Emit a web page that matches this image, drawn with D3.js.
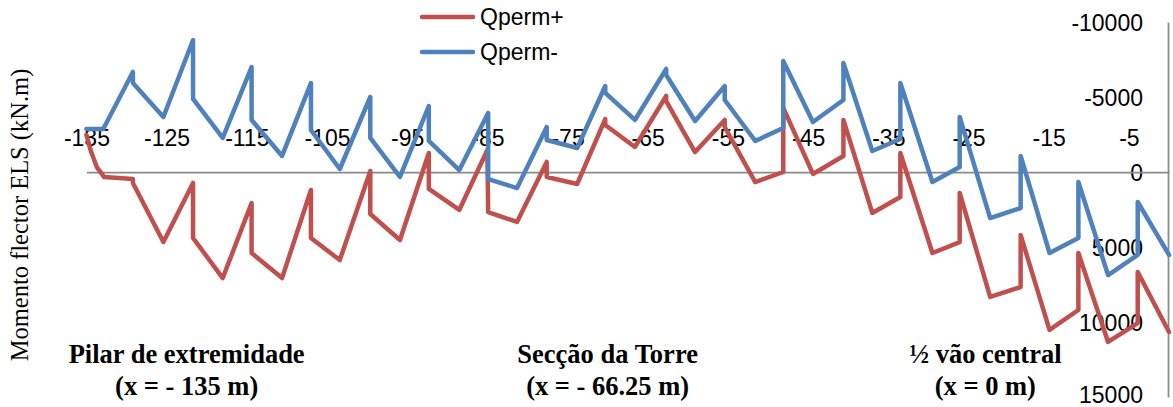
<!DOCTYPE html>
<html>
<head>
<meta charset="utf-8">
<script src="https://cdn.jsdelivr.net/npm/d3@7"></script>
<style>
  html, body { margin: 0; padding: 0; background: #fff; }
  svg { display: block; }
  .tick-label { font-family: "Liberation Sans", Arial, sans-serif; font-size: 23px; fill: #000; }
  .note { font-family: "Liberation Serif", "Times New Roman", serif; font-size: 26.5px; font-weight: bold; fill: #000; }
  .ytitle { font-family: "Liberation Serif", "Times New Roman", serif; font-size: 24.5px; fill: #000; }
</style>
</head>
<body>
<svg id="chart" width="1173" height="407"></svg>
<script>
// Bending moment envelope along half the bridge (x in m, M in kN.m)
const qpermPlusX = [-135, -134.4, -133.7, -132.8, -129.2, -129.2, -125.4, -121.7, -121.7, -118.0,
  -114.4, -114.4, -110.6, -107.0, -107.0, -103.4, -99.6, -99.6, -95.9, -92.3, -92.3, -88.5,
  -85.0, -84.9, -81.3, -77.6, -77.6, -73.8, -70.3, -70.3, -66.6, -62.7, -62.7, -59.1, -55.4,
  -55.4, -51.6, -48.1, -48.1, -44.4, -40.6, -40.6, -37.0, -33.5, -33.5, -29.5, -26.1, -26.1,
  -22.3, -18.5, -18.5, -14.9, -11.3, -11.3, -7.6, -3.9, -3.9, 0];
const qpermPlusM = [-2470, -1330, -330, 330, 470, 730, 4670, 730, 4400, 7070,
  2070, 5400, 7070, 1200, 4400, 5870, -70, 2800, 4530, -1270, 1130, 2530,
  -1470, 2670, 3330, -670, 330, 800, -3530, -3130, -1670, -5070, -4730, -1330, -3470,
  -3000, 670, 0, -4270, 130, -1070, -3470, 2730, 1670, -1270, 5400, 4670, 1400,
  8330, 7670, 4200, 10530, 9200, 5400, 11330, 10070, 6670, 10670];

const qpermMinusX = [-135, -132.9, -129.2, -129.2, -125.4, -121.7, -121.7, -118.0, -114.4, -114.4,
  -110.6, -107.0, -107.0, -103.4, -99.6, -99.6, -95.9, -92.3, -92.3, -88.5, -84.9, -84.9,
  -81.3, -77.6, -77.6, -73.8, -70.3, -70.3, -66.6, -62.7, -62.7, -59.1, -55.4, -55.4, -51.6,
  -48.1, -48.1, -44.4, -40.6, -40.6, -37.0, -33.5, -33.5, -29.5, -26.1, -26.1, -22.3, -18.5,
  -18.5, -14.9, -11.3, -11.3, -7.6, -3.9, -3.9, 0];
const qpermMinusM = [-2870, -2870, -6670, -5930, -3670, -8800, -4870, -2270, -7000, -3470,
  -1070, -5930, -2800, -200, -5000, -2270, 330, -4400, -2070, -130, -3930, 470,
  1070, -3000, -2130, -1600, -5730, -5270, -3470, -6870, -6470, -3400, -5730, -4800, -2070,
  -2930, -7400, -3330, -4800, -7270, -1400, -2200, -5930, 670, -330, -3670, 3070, 2400,
  -1070, 5400, 4400, 670, 6870, 5530, 2000, 5530];

const xTicks = [-135, -125, -115, -105, -95, -85, -75, -65, -55, -45, -35, -25, -15, -5];
const yTicks = [-10000, -5000, 0, 5000, 10000, 15000];

const seriesNames = ["Qperm+", "Qperm-"];
const seriesColors = ["#C0504D", "#4F81BD"];

const notes = [
  { x: -122.5, lines: ["Pilar de extremidade", "(x = - 135 m)"] },
  { x: -70.0, lines: ["Secção da Torre", "(x = - 66.25 m)"] },
  { x: -22.9, lines: ["½ vão central", "(x = 0 m)"] }
];

const svg = d3.select("#chart");

const x = d3.scaleLinear().domain([-135, 0]).range([86.4, 1169]);
// moment axis drawn reversed: negative (hogging) moments upward
const y = d3.scaleLinear().domain([-10000, 15000]).range([22, 397]);

// right-hand value axis
const yAxis = d3.axisRight(y).tickValues(yTicks).tickSize(0).tickFormat(d3.format("d"));
const gy = svg.append("g").attr("transform", `translate(${x(0) - 1},0)`).call(yAxis);
gy.select(".domain").attr("stroke", "#8a8a8a").attr("stroke-width", 1.75);
gy.selectAll("text")
  .attr("class", "tick-label")
  .attr("text-anchor", "end")
  .attr("x", -25)
  .attr("y", d => (d === 15000 ? -3 : 0))
  .attr("dy", "0.35em")
  .text(d => String(d));

// horizontal axis at M = 0, labels sitting above it
const xAxis = d3.axisTop(x).tickValues(xTicks).tickSize(0).tickFormat(d => String(d));
const gx = svg.append("g").attr("transform", `translate(0,${y(0)})`).call(xAxis);
gx.select(".domain").attr("stroke", "#8a8a8a").attr("stroke-width", 1.75);
gx.selectAll("text").attr("class", "tick-label").attr("y", -26).attr("dy", 0);

// series lines
const line = d3.line().x(d => x(d[0])).y(d => y(d[1]));
const series = [
  d3.zip(qpermPlusX, qpermPlusM),
  d3.zip(qpermMinusX, qpermMinusM)
];
series.forEach((pts, i) => {
  svg.append("path")
    .attr("d", line(pts))
    .attr("fill", "none")
    .attr("stroke", seriesColors[i])
    .attr("stroke-width", 4.5)
    .attr("stroke-linejoin", "round")
    .attr("stroke-linecap", "round");
});

// legend
const legend = svg.append("g").attr("transform", "translate(422,17)");
seriesNames.forEach((name, i) => {
  const row = legend.append("g").attr("transform", `translate(0,${i * 35})`);
  row.append("line").attr("x1", 0).attr("x2", 51).attr("y1", 0).attr("y2", 0)
    .attr("stroke", seriesColors[i]).attr("stroke-width", 4.5).attr("stroke-linecap", "round");
  row.append("text").attr("class", "tick-label").attr("x", 58).attr("y", 0).attr("dy", "0.36em").text(name);
});

// axis title
svg.append("text")
  .attr("class", "ytitle")
  .attr("transform", "translate(28,215) rotate(-90)")
  .attr("text-anchor", "middle")
  .text("Momento flector ELS (kN.m)");

// section annotations
notes.forEach(n => {
  const t = svg.append("text").attr("class", "note").attr("text-anchor", "middle");
  n.lines.forEach((s, k) => {
    t.append("tspan").attr("x", x(n.x)).attr("y", 363 + k * 32).text(s);
  });
});
</script>
</body>
</html>
